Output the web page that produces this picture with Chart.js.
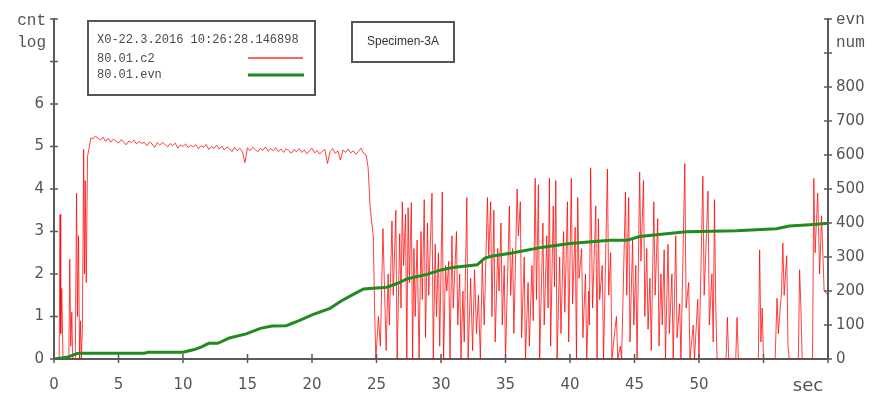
<!DOCTYPE html>
<html>
<head>
<meta charset="utf-8">
<script src="https://cdn.jsdelivr.net/npm/chart.js@4.4.0/dist/chart.umd.min.js"></script>
<style>
  html, body { margin: 0; padding: 0; background: #fff; }
  #wrap { width: 873px; height: 399px; }
</style>
</head>
<body>
<div id="wrap"><canvas id="chart" width="873" height="399"></canvas></div>
<script>
// c2 signal, first bursts before the plateau (sec / log cnt)
const earlyTimes = [0, 0.4, 0.47, 0.52, 0.6, 0.7, 1.15, 1.22, 1.3, 1.38, 1.45, 1.65, 1.75, 1.82, 1.9, 1.98, 2.05, 2.12, 2.2, 2.3, 2.36, 2.42, 2.5, 2.6, 2.75, 2.85];
const earlyValues = [0, 0, 3.4, 0.6, 1.66, 0, 0, 2.35, 0.3, 1.1, 0, 0, 3.9, 1.0, 2.9, 0, 0.9, 0, 0.7, 4.93, 2.0, 4.2, 1.8, 4.77, 5.0, 5.2];

// plateau, one reading every 0.2 s starting at 3.0 s
const plateauStart = 3.0;
const plateauStep = 0.2;
const plateauValues = [
  5.18, 5.24, 5.2, 5.15, 5.22, 5.12, 5.19, 5.1, 5.17, 5.13,
  5.08, 5.16, 5.11, 5.04, 5.13, 5.09, 5.15, 5.06, 5.12, 5.07,
  5.1, 5.02, 5.11, 5.06, 4.98, 5.09, 5.03, 5.1, 5.05, 4.99,
  5.07, 5.02, 5.08, 4.96, 5.04, 5.0, 5.06, 4.97, 5.03, 4.99,
  5.04, 4.95, 5.02, 4.98, 5.05, 4.93, 5.0, 4.96, 5.03, 4.94,
  5.01, 4.92, 4.99, 4.95, 4.88, 4.98, 4.9, 4.96, 4.88, 4.62,
  4.97, 4.9, 4.98, 4.93, 4.87, 4.96, 4.91, 4.99, 4.89, 4.95,
  4.9, 4.97, 4.88, 4.94, 4.86, 4.95, 4.9, 4.84, 4.93, 4.88,
  4.95, 4.86, 4.92, 4.83, 4.9, 4.96, 4.85, 4.91, 4.82, 4.89,
  4.93, 4.6, 4.88, 4.95, 4.84, 4.9, 4.68, 4.92, 4.86, 4.94,
  4.85, 4.9, 4.82, 4.88, 4.96, 4.84
];

// drop at ~24.5 s and the burst hits after it
const burstTimes = [
  24.2, 24.35, 24.5, 24.6, 24.75, 24.85, 24.95, 25.15, 25.3, 25.5,
  25.6, 25.75, 25.9, 26.0, 26.2, 26.3, 26.5, 26.6, 26.8, 26.9,
  27.0, 27.1, 27.25, 27.35, 27.45, 27.55, 27.7, 27.8, 27.9, 28.0,
  28.15, 28.3, 28.45, 28.55, 28.7, 28.8, 28.95, 29.05, 29.3, 29.4,
  29.55, 29.65, 29.8, 29.9, 30.1, 30.2, 30.35, 30.45, 30.6, 30.7,
  30.85, 30.95, 31.2, 31.3, 31.45, 31.55, 31.7, 31.8, 32.0, 32.1,
  32.3, 32.45, 32.6, 32.75, 32.9, 33.05, 33.2, 33.35, 33.6, 33.7,
  33.85, 33.95, 34.1, 34.2, 34.4, 34.5, 34.65, 34.75, 34.9, 35.0,
  35.3, 35.4, 35.55, 35.65, 35.9, 36.0, 36.15, 36.25, 36.45, 36.55,
  36.75, 36.85, 37.05, 37.15, 37.3, 37.4, 37.55, 37.65, 37.9, 38.0,
  38.2, 38.3, 38.4, 38.5, 38.7, 38.8, 38.9, 39.0, 39.2, 39.3,
  39.5, 39.6, 39.8, 39.9, 40.1, 40.2, 40.4, 40.5, 40.6, 40.7,
  40.9, 41.0, 41.2, 41.3, 41.45, 41.5, 41.6, 41.75, 42.0, 42.1,
  42.2, 42.3, 42.5, 42.6, 42.9, 43.0, 43.15, 43.25, 43.45, 43.6,
  43.7, 43.9, 44.0, 44.3, 44.4, 44.55, 44.65, 44.85, 44.95, 45.1,
  45.2, 45.4, 45.5, 45.7, 45.8, 45.95, 46.05, 46.2, 46.3, 46.5,
  46.6, 46.8, 46.9, 47.05, 47.15, 47.3, 47.4, 47.6, 47.7, 47.9,
  48.0, 48.2, 48.3, 48.5, 48.6, 48.9, 49.0, 49.2, 49.3, 49.55,
  49.65, 49.9, 50.0, 50.3, 50.4, 50.7, 50.8, 51.0, 51.1, 51.2,
  51.3, 51.4, 52.1, 52.2, 52.3, 52.85, 52.95, 53.05, 54.6, 54.7,
  54.8, 54.9, 55.0, 55.9, 56.05, 56.15, 56.4, 56.5, 56.6, 56.8,
  56.9, 57.0, 57.7, 57.8, 57.9, 58.0, 58.8, 58.9, 59.0, 59.2,
  59.35, 59.5, 59.7, 60
];
const burstValues = [
  4.8, 4.5, 3.6, 3.3, 2.9, 1.2, 0, 1.0, 0.3, 3.07,
  1.9, 0.2, 2.0, 0.8, 3.25, 1.5, 3.5, 0, 2.95, 1.2,
  3.7, 2.2, 3.4, 0, 3.56, 1.8, 3.68, 0, 2.6, 1.0,
  2.8, 0, 3.0, 1.4, 3.75, 0.5, 3.2, 1.5, 3.9, 0,
  2.7, 1.0, 2.5, 0.3, 3.93, 0, 2.2, 1.6, 2.3, 0,
  2.9, 1.2, 3.0, 0.8, 2.0, 0, 1.6, 0.4, 3.8, 0,
  1.9, 0.2, 2.1, 0.6, 1.5, 0, 2.3, 0.8, 3.8, 2.4,
  3.7, 1.0, 3.5, 0.4, 2.6, 1.6, 3.2, 0.8, 2.2, 0,
  3.6, 1.5, 2.6, 0.6, 4.0, 2.9, 3.7, 0.5, 2.4, 0,
  1.8, 0.3, 2.2, 0.9, 4.25, 1.4, 4.1, 0, 3.2, 0.8,
  2.9, 1.2, 4.25, 0.3, 3.6, 1.7, 4.2, 0, 2.4, 0.6,
  3.0, 1.1, 3.7, 0.4, 4.25, 1.3, 3.1, 0, 3.8, 1.9,
  2.6, 0.5, 2.0, 0, 1.6, 0.8, 4.5, 1.2, 3.6, 0,
  3.3, 1.4, 2.2, 0, 4.47, 1.5, 2.5, 0, 0.6, 1.0,
  0, 0.3, 0, 3.93, 1.5, 3.8, 0.4, 2.8, 0.8, 2.2,
  0, 4.4, 2.3, 4.2, 1.0, 2.6, 0.7, 1.9, 0.2, 3.7,
  1.5, 3.3, 0.3, 2.0, 0.8, 2.57, 0, 2.7, 0.6, 2.0,
  0, 2.9, 0.5, 1.3, 0, 4.6, 1.2, 1.8, 0, 0.8,
  0, 1.4, 0, 4.3, 1.5, 3.95, 0.8, 2.0, 0.4, 3.75,
  1.2, 0, 0, 0.98, 0, 0, 0.98, 0, 0, 2.57,
  0.4, 1.2, 0, 0, 1.43, 0.6, 1.6, 2.73, 1.5, 2.43,
  0.3, 0, 0, 2.1, 1.2, 0, 0, 4.25, 2.5, 3.9,
  2.0, 3.37, 1.6, 1.5
];

// cumulative event count (right axis)
const evnTimes = [0, 1.0, 1.8, 2.2, 7.0, 7.3, 10.0, 10.8, 11.4, 12.0, 12.7, 13.6, 14.9, 16.0, 16.9, 18.0, 19.0, 20.1, 21.4, 22.2, 23.2, 24.0, 25.8, 26.6, 27.4, 28.9, 30.0, 30.9, 32.8, 33.4, 34.0, 35.4, 37.9, 40.0, 43.1, 44.4, 45.4, 46.9, 49.0, 52.9, 56.0, 57.0, 58.6, 60];
const evnValues = [0, 5, 16, 17, 17, 20, 20, 27, 35, 46, 46, 62, 74, 90, 97, 98, 113, 131, 149, 169, 190, 206, 211, 222, 236, 249, 262, 269, 277, 297, 303, 311, 329, 340, 349, 349, 360, 366, 374, 377, 383, 391, 395, 399];

const xTickLabels = ['0', '5', '10', '15', '20', '25', '30', '35', '40', '45', '50', '', ''];
const leftTickLabels = ['0', '1', '2', '3', '4', '5', '6', '', ''];
const rightTickLabels = ['0', '100', '200', '300', '400', '500', '600', '700', '800', '', ''];

const legendHeader = 'X0-22.3.2016 10:26:28.146898';
const seriesNames = ['80.01.c2', '80.01.evn'];
const specimen = 'Specimen-3A';

const c2Points = [];
earlyTimes.forEach((t, i) => c2Points.push({ x: t, y: earlyValues[i] }));
plateauValues.forEach((v, i) => c2Points.push({ x: plateauStart + i * plateauStep, y: v }));
burstTimes.forEach((t, i) => c2Points.push({ x: t, y: burstValues[i] }));
const evnPoints = evnTimes.map((t, i) => ({ x: t, y: evnValues[i] }));

const axisGray = '#5a5a5a';
const tickFont = { family: 'DejaVu Sans', size: 15 };

// cross ticks, axis captions, legend box and specimen box
const decorations = {
  id: 'decorations',
  afterDraw(chart) {
    const ctx = chart.ctx;
    const xs = chart.scales.x, yl = chart.scales.yLeft, yr = chart.scales.yRight;
    const area = chart.chartArea;
    ctx.save();
    ctx.strokeStyle = axisGray;
    ctx.lineWidth = 1.5;
    ctx.beginPath();
    yl.ticks.forEach(t => { const y = yl.getPixelForValue(t.value); ctx.moveTo(area.left - 4, y); ctx.lineTo(area.left + 4, y); });
    yr.ticks.forEach(t => { const y = yr.getPixelForValue(t.value); ctx.moveTo(area.right - 4, y); ctx.lineTo(area.right + 4, y); });
    xs.ticks.forEach(t => { const x = xs.getPixelForValue(t.value); ctx.moveTo(x, area.bottom - 5); ctx.lineTo(x, area.bottom + 4); });
    ctx.stroke();

    ctx.fillStyle = '#555';
    ctx.font = '16px "Liberation Mono"';
    ctx.textBaseline = 'middle';
    ctx.textAlign = 'right';
    ctx.fillText('cnt', 46, 21);
    ctx.fillText('log', 46, 43);
    ctx.textAlign = 'left';
    ctx.fillText('evn', 836, 20);
    ctx.fillText('num', 836, 43);
    ctx.font = '18px "DejaVu Sans"';
    ctx.textAlign = 'center';
    ctx.fillText('sec', 808, 386);

    // legend box
    ctx.lineWidth = 2;
    ctx.strokeStyle = '#555';
    ctx.fillStyle = '#fff';
    ctx.fillRect(88, 21, 227, 74);
    ctx.strokeRect(88, 21, 227, 74);
    ctx.fillStyle = '#4a4a4a';
    ctx.font = '12px "Liberation Mono"';
    ctx.textAlign = 'left';
    ctx.fillText(legendHeader, 97, 40);
    ctx.fillText(seriesNames[0], 97, 59);
    ctx.fillText(seriesNames[1], 97, 75);
    ctx.lineWidth = 1.5;
    ctx.strokeStyle = '#ff3030';
    ctx.beginPath(); ctx.moveTo(248, 58); ctx.lineTo(303, 58); ctx.stroke();
    ctx.lineWidth = 3;
    ctx.strokeStyle = '#1f8c1f';
    ctx.beginPath(); ctx.moveTo(248, 75); ctx.lineTo(304, 75); ctx.stroke();

    // specimen box
    ctx.lineWidth = 2;
    ctx.strokeStyle = '#555';
    ctx.strokeRect(352, 22, 102, 40);
    ctx.fillStyle = '#333';
    ctx.font = '12px "Liberation Sans"';
    ctx.textAlign = 'center';
    ctx.fillText(specimen, 403, 42);
    ctx.restore();
  }
};

new Chart(document.getElementById('chart'), {
  type: 'line',
  data: {
    datasets: [
      {
        label: seriesNames[1],
        data: evnPoints,
        yAxisID: 'yRight',
        borderColor: '#1f8c1f',
        borderWidth: 3,
        pointRadius: 0,
        tension: 0,
        order: 0
      },
      {
        label: seriesNames[0],
        data: c2Points,
        yAxisID: 'yLeft',
        borderColor: 'rgba(255, 0, 0, 0.75)',
        borderWidth: 1,
        pointRadius: 0,
        tension: 0,
        order: 1
      }
    ]
  },
  options: {
    responsive: false,
    animation: false,
    layout: { padding: { top: 9, left: 0, right: 0, bottom: 0 } },
    plugins: { legend: { display: false }, tooltip: { enabled: false } },
    scales: {
      x: {
        type: 'linear',
        min: 0,
        max: 60,
        grid: { display: false, drawTicks: false },
        border: { display: true, color: axisGray, width: 2 },
        ticks: {
          stepSize: 5,
          autoSkip: false,
          maxRotation: 0,
          padding: 17,
          color: '#555',
          font: tickFont,
          callback: (v, i) => xTickLabels[i]
        },
        afterFit: s => { s.height = 40; }
      },
      yLeft: {
        type: 'linear',
        position: 'left',
        min: 0,
        max: 8,
        grid: { display: false, drawTicks: false },
        border: { display: true, color: axisGray, width: 2 },
        ticks: {
          stepSize: 1,
          padding: 10,
          color: '#555',
          font: tickFont,
          callback: (v, i) => leftTickLabels[i]
        },
        afterFit: s => { s.width = 54; }
      },
      yRight: {
        type: 'linear',
        position: 'right',
        min: 0,
        max: 1000,
        grid: { display: false, drawTicks: false },
        border: { display: true, color: axisGray, width: 2 },
        ticks: {
          stepSize: 100,
          padding: 8,
          color: '#555',
          font: tickFont,
          callback: (v, i) => rightTickLabels[i]
        },
        afterFit: s => { s.width = 45; }
      }
    }
  },
  plugins: [decorations]
});
</script>
</body>
</html>
